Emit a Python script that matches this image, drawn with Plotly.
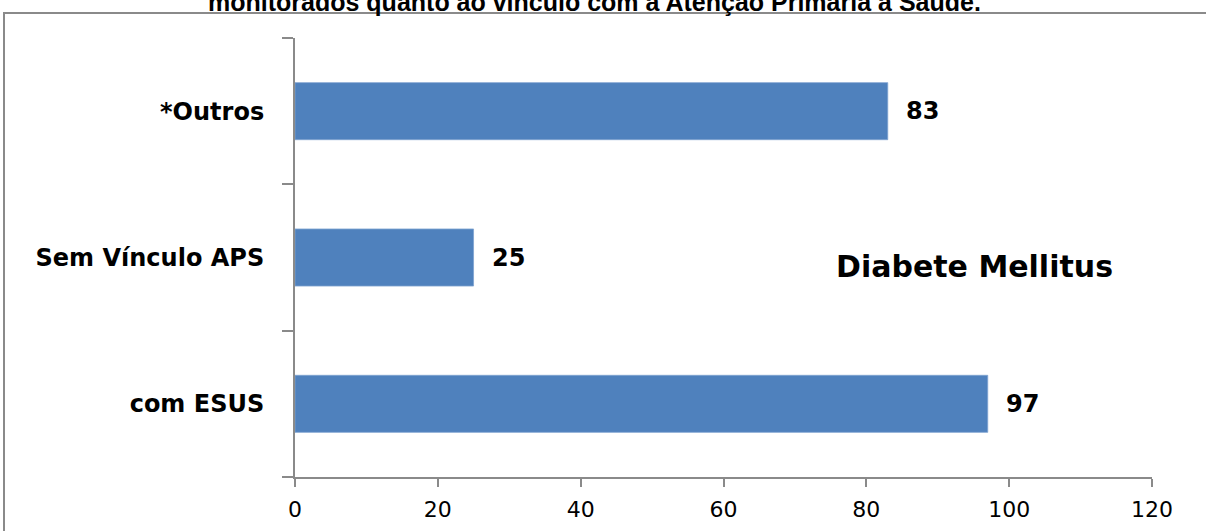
import plotly.graph_objects as go

categories = ["com ESUS", "Sem Vínculo APS", "*Outros"]
values = [97, 25, 83]
x_ticks = [0, 20, 40, 60, 80, 100, 120]
title_text = "monitorados quanto ao vínculo com a Atenção Primária à Saúde."
inner_label = "Diabete Mellitus"

W, H = 1206, 531
ML, MR, MT, MB = 295, 54, 38, 54
PW, PH = W - ML - MR, H - MT - MB

def px_to_paper_x(px):
    return (px - ML) / PW

def px_to_paper_y(py):
    return 1 - (py - MT) / PH

axis_gray = "#8a8a8a"
bar_blue = "#4F81BD"

fig = go.Figure()
fig.add_trace(go.Bar(
    x=values, y=categories, orientation="h",
    marker=dict(color=bar_blue, line=dict(width=0.8, color="#7fa3d0")),
    hoverinfo="x+y",
))

annotations = []
for c, v in zip(categories, values):
    annotations.append(dict(
        x=v, y=c, xref="x", yref="y", text=str(v), showarrow=False,
        xanchor="left", yanchor="middle", xshift=16,
        font=dict(family="DejaVu Sans", size=24, color="#000", weight="bold"),
    ))
annotations.append(dict(
    x=px_to_paper_x(974), y=px_to_paper_y(266), xref="paper", yref="paper",
    text=inner_label, showarrow=False, xanchor="center", yanchor="middle",
    font=dict(family="DejaVu Sans", size=30, color="#000", weight="bold"),
))
annotations.append(dict(
    x=px_to_paper_x(594), y=px_to_paper_y(2), xref="paper", yref="paper",
    text=title_text, showarrow=False, xanchor="center", yanchor="middle",
    font=dict(family="Liberation Sans", size=25, color="#000", weight="bold"),
))

fig.update_layout(
    width=W, height=H,
    margin=dict(l=ML, r=MR, t=MT, b=MB, autoexpand=False),
    paper_bgcolor="white", plot_bgcolor="white",
    bargap=0.61,
    showlegend=False,
    annotations=annotations,
    shapes=[dict(
        type="rect", xref="paper", yref="paper",
        x0=px_to_paper_x(4), x1=px_to_paper_x(1260),
        y0=px_to_paper_y(600), y1=px_to_paper_y(13),
        line=dict(color=axis_gray, width=2), fillcolor="rgba(0,0,0,0)",
        layer="below",
    )],
    xaxis=dict(
        range=[0, 120], tickvals=x_ticks, ticktext=[str(t) for t in x_ticks],
        showgrid=False, zeroline=False, automargin=False,
        showline=True, linecolor=axis_gray, linewidth=2,
        ticks="outside", ticklen=8, tickwidth=2, tickcolor=axis_gray,
        tickfont=dict(family="DejaVu Sans", size=22, color="#000"),
        ticklabelstandoff=4,
    ),
    yaxis=dict(
        type="category", categoryorder="array", categoryarray=categories,
        range=[-0.5, 2.5], automargin=False,
        showgrid=False, zeroline=False,
        showline=True, linecolor=axis_gray, linewidth=2,
        ticks="outside", ticklen=11, tickwidth=2, tickcolor=axis_gray,
        tickson="boundaries",
        tickfont=dict(family="DejaVu Sans", size=24, color="#000", weight="bold"),
        ticklabelstandoff=24,
    ),
)

fig.write_html("out.html", config={"displayModeBar": False},
               post_script="document.body.style.margin='0';")
